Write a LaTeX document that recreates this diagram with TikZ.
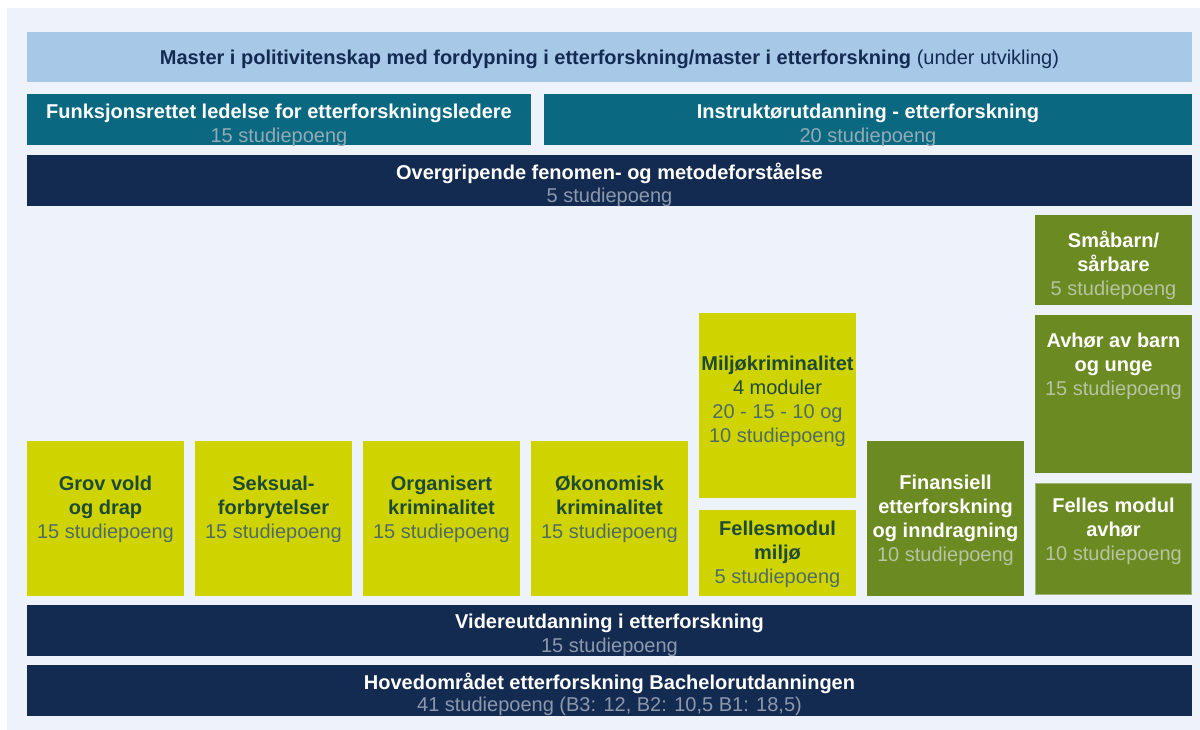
\documentclass[tikz,border=0pt]{standalone}
\usepackage{fontspec}
\setmainfont{Liberation Sans}
\definecolor{panel}{HTML}{EEF3FB}
\definecolor{lightblue}{HTML}{A8C8E8}
\definecolor{navy}{HTML}{142B51}
\definecolor{teal}{HTML}{0A6881}
\definecolor{yellowg}{HTML}{CFD400}
\definecolor{olive}{HTML}{6B8A22}
\definecolor{darkgreen}{HTML}{1D4A35}
\definecolor{ysub}{HTML}{4F6C62}
\definecolor{osub}{HTML}{B6C4A2}
\definecolor{tsub}{HTML}{93ABB6}
\definecolor{nsub}{HTML}{8D98AD}
\tikzset{
  box/.style={inner sep=0pt, outer sep=0pt},
  txt/.style={inner sep=0pt, align=center, font=\fontsize{20}{24}\selectfont},
}
\newcommand{\mybox}[6]{% name, x1, y1, x2, y2, colour
  \fill[#6] (#2,#3) rectangle (#4,#5);
  \node[box, minimum width=#4-#2, minimum height=#5-#3] (#1) at ({(#2+#4)/2},{(#3+#5)/2}) {};}
\begin{document}
\begin{tikzpicture}[x=1pt,y=-1pt]
\useasboundingbox (0,0) rectangle (1200,730);
\fill[white] (0,0) rectangle (1200,730);
\fill[panel] (7,8) rectangle (1200,730);
% top rows
\mybox{master}{27}{32}{1192}{82}{lightblue}
\node[txt, text=navy] (masterT) at (609.5,59) {\textbf{Master i politivitenskap med fordypning i etterforskning/master i etterforskning} (under utvikling)};
\mybox{funk}{27}{94}{531}{145}{teal}
\node[txt, text=white, font=\fontsize{20}{24}\selectfont\bfseries] (funkT) at (279,113) {Funksjonsrettet ledelse for etterforskningsledere};
\node[txt, text=tsub] (funkS) at (279,137) {15 studiepoeng};
\mybox{instr}{544}{94}{1192}{145}{teal}
\node[txt, text=white, font=\fontsize{20}{24}\selectfont\bfseries] (instrT) at (868,113) {Instruktørutdanning - etterforskning};
\node[txt, text=tsub] (instrS) at (868,137) {20 studiepoeng};
\mybox{over}{27}{155}{1192}{206}{navy}
\node[txt, text=white, font=\fontsize{20}{24}\selectfont\bfseries] (overT) at (609.5,173) {Overgripende fenomen- og metodeforståelse};
\node[txt, text=nsub] (overS) at (609.5,197) {5 studiepoeng};
% yellow boxes
\mybox{grov}{27}{441}{184}{596}{yellowg}
\node[txt, text=darkgreen, anchor=north] (grovT) at (105.5,476) {\textbf{Grov vold}\\\textbf{og drap}\\\textcolor{ysub}{15 studiepoeng}};
\mybox{seks}{195}{441}{352}{596}{yellowg}
\node[txt, text=darkgreen, anchor=north] (seksT) at (273.5,476) {\textbf{Seksual-}\\\textbf{forbrytelser}\\\textcolor{ysub}{15 studiepoeng}};
\mybox{org}{363}{441}{520}{596}{yellowg}
\node[txt, text=darkgreen, anchor=north] (orgT) at (441.5,476) {\textbf{Organisert}\\\textbf{kriminalitet}\\\textcolor{ysub}{15 studiepoeng}};
\mybox{oko}{531}{441}{688}{596}{yellowg}
\node[txt, text=darkgreen, anchor=north] (okoT) at (609.5,476) {\textbf{Økonomisk}\\\textbf{kriminalitet}\\\textcolor{ysub}{15 studiepoeng}};
\mybox{milj}{699}{313}{856}{498}{yellowg}
\node[txt, text=darkgreen, anchor=north] (miljT) at (777.5,356) {\textbf{Miljøkriminalitet}\\4 moduler\\\textcolor{ysub}{20 - 15 - 10 og}\\\textcolor{ysub}{10 studiepoeng}};
\mybox{fmil}{699}{510}{856}{596}{yellowg}
\node[txt, text=darkgreen, anchor=north] (fmilT) at (777.5,521) {\textbf{Fellesmodul}\\\textbf{miljø}\\\textcolor{ysub}{5 studiepoeng}};
% olive boxes
\mybox{fin}{867}{441}{1024}{596}{olive}
\node[txt, text=white, anchor=north] (finT) at (945.5,475) {\textbf{Finansiell}\\\textbf{etterforskning}\\\textbf{og inndragning}\\\textcolor{osub}{10 studiepoeng}};
\mybox{sma}{1035}{215}{1192}{305}{olive}
\node[txt, text=white, anchor=north] (smaT) at (1113.5,231) {\textbf{Småbarn/}\\\textbf{sårbare}\\\textcolor{osub}{5 studiepoeng}};
\mybox{avh}{1035}{315}{1192}{473}{olive}
\node[txt, text=white, anchor=north] (avhT) at (1113.5,333) {\textbf{Avhør av barn}\\\textbf{og unge}\\\textcolor{osub}{15 studiepoeng}};
\mybox{favh}{1035}{483}{1192}{595}{olive}
\draw[osub!70!olive, line width=0.8pt] (1035.4,483.4) rectangle (1191.6,594.6);
\node[txt, text=white, anchor=north] (favhT) at (1113.5,498) {\textbf{Felles modul}\\\textbf{avhør}\\\textcolor{osub}{10 studiepoeng}};
% bottom rows
\mybox{vid}{27}{605}{1192}{656}{navy}
\node[txt, text=white, font=\fontsize{20}{24}\selectfont\bfseries] (vidT) at (609.5,623) {Videreutdanning i etterforskning};
\node[txt, text=nsub] (vidS) at (609.5,647) {15 studiepoeng};
\mybox{hov}{27}{665}{1192}{716}{navy}
\node[txt, text=white, font=\fontsize{20}{24}\selectfont\bfseries] (hovT) at (609.5,683) {Hovedområdet etterforskning Bachelorutdanningen};
\node[txt, text=nsub] (hovS) at (609.5,706) {41 studiepoeng (B3: 12, B2: 10,5 B1: 18,5)};
\end{tikzpicture}
\end{document}
